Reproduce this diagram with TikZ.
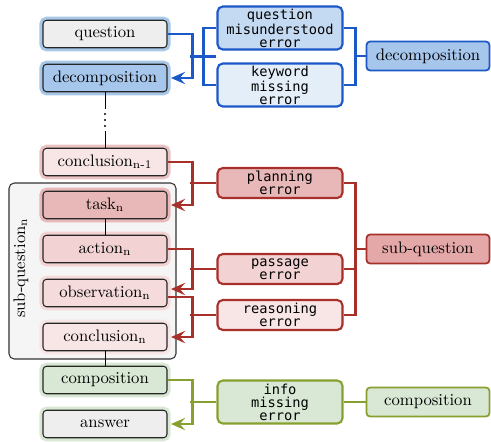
\documentclass[tikz,border=0pt]{standalone}
\usepackage{fontspec}
\newfontfamily\errfont{DejaVu Sans Mono}
\usetikzlibrary{arrows.meta,calc}

\definecolor{bluel}{HTML}{1C58C8}
\definecolor{redl}{HTML}{A8302A}
\definecolor{greenl}{HTML}{88A030}
\definecolor{greyf}{HTML}{EEEEEE}
\definecolor{bluef}{HTML}{A6C6EC}
\definecolor{blueh}{HTML}{A8C8E8}
\definecolor{bluem}{HTML}{C4DAF2}
\definecolor{bluep}{HTML}{E4EEF8}
\definecolor{redf}{HTML}{E8B8B8}
\definecolor{redm}{HTML}{F2D2D2}
\definecolor{redp}{HTML}{F8E6E6}
\definecolor{redc}{HTML}{E4A8A8}
\definecolor{greenf}{HTML}{D8E8D4}

\tikzset{
  stage/.style 2 args={draw=black!85, fill=#1, rounded corners=2pt, line width=0.6pt,
    minimum width=2.48cm, minimum height=0.55cm, inner sep=0pt,
    font=\fontsize{9.5}{11}\selectfont, preaction={draw=#2, line width=4pt}},
  err/.style 2 args={draw=#1, fill=#2, rounded corners=3pt, line width=1.2pt,
    minimum width=2.5cm, inner sep=0pt, align=center,
    font=\errfont\fontsize{7.8}{7.4}\selectfont},
  cat/.style 2 args={draw=#1, fill=#2, rounded corners=2pt, line width=1pt,
    minimum width=2.46cm, minimum height=0.58cm, inner sep=0pt,
    font=\fontsize{9.5}{11}\selectfont},
  link/.style={draw=#1, line width=1.2pt},
  arr/.style={link=#1, -{Stealth[length=8pt,width=7pt,inset=3pt]}, shorten >=2pt},
  chain/.style={draw=black, line width=0.45pt}
}

\begin{document}
\begin{tikzpicture}[x=0.02cm, y=-0.02cm]
    \useasboundingbox (0,0) rectangle (491,441);

    % sub-question frame
    \draw [fill=black!4, draw=black!80, line width=0.6pt, rounded corners=3pt] (9,183) rectangle (176,359);
    \node [rotate=90, font=\fontsize{9.5}{11}\selectfont] (sqlabel) at (21,268) {sub-question\textsubscript{n}};

    % left column
    \node [stage={greyf}{blueh}] (q) at (105,34) {question};
    \node [stage={bluef}{blueh}] (dec) at (105,78) {decomposition};
    \node [minimum height=0.42cm, minimum width=0.1cm, inner sep=0pt] (dots) at (105,120) {};
    \foreach \dy in {-6,0,6}
        \fill ([yshift=-\dy*0.02cm]dots.center) circle (0.7pt);
    \node [stage={redp}{redf!85}] (concprev) at (105,162) {conclusion\textsubscript{n-1}};
    \node [stage={redf}{redf}] (task) at (105,205) {task\textsubscript{n}};
    \node [stage={redm}{redm}] (act) at (105,249) {action\textsubscript{n}};
    \node [stage={redm!80}{redm!80}] (obs) at (105,293) {observation\textsubscript{n}};
    \node [stage={redp}{redp}] (conc) at (105,337) {conclusion\textsubscript{n}};
    \node [stage={greenf}{greenf}] (comp) at (105,380) {composition};
    \node [stage={greyf}{greenf}] (ans) at (105,424) {answer};

    % error types
    \node [err={bluel}{bluem}, minimum height=0.86cm] (qmerr) at (280,28) {question\\misunderstood\\error};
    \node [err={bluel}{bluep}, minimum height=0.86cm] (kmerr) at (280,85) {keyword\\missing\\error};
    \node [err={redl}{redf}, minimum height=0.6cm] (planerr) at (280,183) {planning\\error};
    \node [err={redl}{redm}, minimum height=0.6cm] (passerr) at (280,269) {passage\\error};
    \node [err={redl}{redp}, minimum height=0.6cm] (reaserr) at (280,315) {reasoning\\error};
    \node [err={greenl}{greenf}, minimum height=0.86cm] (infoerr) at (280,402) {info\\missing\\error};

    % categories
    \node [cat={bluel}{bluef}] (catdec) at (428,56) {decomposition};
    \node [cat={redl}{redc}] (catsub) at (428,249) {sub-question};
    \node [cat={greenl}{greenf}] (catcomp) at (428,402) {composition};

    % chain
    \draw [chain] (dec.south) -- (dots.north);
    \draw [chain] (dots.south) -- (concprev.north);
    \draw [chain] (task.south) -- (act.north);
    \draw [chain] (conc.south) -- (comp.north);

    % decomposition errors
    \draw [arr=bluel] (q.east) -- ++(25,0) |- (dec.east);
    \draw [link=bluel] ($(qmerr.west)!0.5!(kmerr.west)$) -- ++(-26,0);
    \draw [link=bluel] (qmerr.west) -- ++(-13,0) |- (kmerr.west);
    \draw [link=bluel] (qmerr.east) -- ++(12,0) |- (kmerr.east);
    \draw [link=bluel] (catdec.west) -- ++(-12,0);

    % sub-question errors
    \draw [arr=redl] (concprev.east) -- ++(25,0) |- (task.east);
    \draw [arr=redl] (act.east) -- ++(25,0) |- ([yshift=0.08cm]obs.east);
    \draw [arr=redl] ([yshift=-0.08cm]obs.east) -- ++(25,0) |- (conc.east);
    \draw [link=redl] (planerr.west) -- ++(-26,0);
    \draw [link=redl] (passerr.west) -- ++(-26,0);
    \draw [link=redl] (reaserr.west) -- ++(-26,0);
    \draw [link=redl] (planerr.east) -- ++(12,0) |- (reaserr.east);
    \draw [link=redl] (passerr.east) -- ++(12,0);
    \draw [link=redl] (catsub.west) -- ++(-12,0);

    % composition errors
    \draw [arr=greenl] (comp.east) -- ++(25,0) |- (ans.east);
    \draw [link=greenl] (infoerr.west) -- ++(-26,0);
    \draw [link=greenl] (infoerr.east) -- (catcomp.west);
\end{tikzpicture}
\end{document}
